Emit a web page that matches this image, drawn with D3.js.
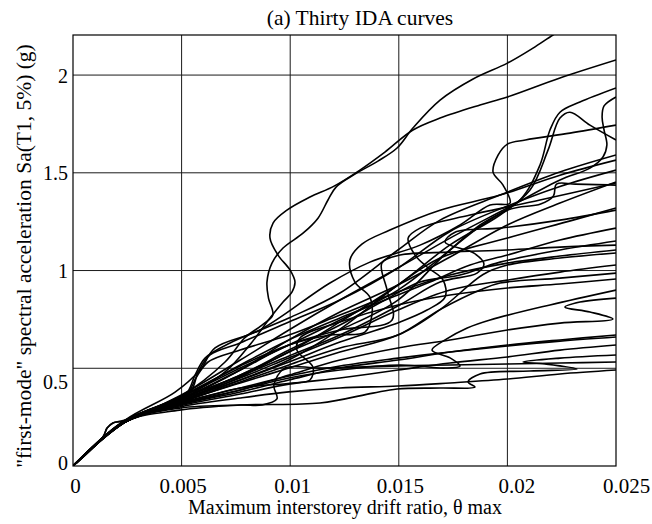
<!DOCTYPE html>
<html><head><meta charset="utf-8">
<script src="https://cdn.jsdelivr.net/npm/d3@7"></script>
<style>
body{margin:0;background:#fff}
svg{display:block}
text{font-family:"Liberation Serif","Times New Roman",serif;fill:#000}
</style>
</head><body><svg id="chart" width="652" height="524"></svg>
<script>
// ---- axis data ----
const xTicks = [0, 0.005, 0.01, 0.015, 0.02, 0.025];
const xTickLabels = ["0", "0.005", "0.01", "0.015", "0.02", "0.025"];
const yTicks = [0, 0.5, 1, 1.5, 2];
const yTickLabels = ["0", "0.5", "1", "1.5", "2"];
const xDomain = [0, 0.025];
const yDomain = [0, 2.205];
const titleText = "(a) Thirty IDA curves";
const xTitle = "Maximum interstorey drift ratio, \u03B8 max";
const yTitle = "\"first-mode\" spectral acceleration Sa(T1, 5%) (g)";

// ---- IDA curves: [theta max, Sa(T1,5%) g] ----
const c01 = [[0,0],[0.0024,0.23],[0.0049,0.353],[0.007,0.532],[0.0079,0.655],[0.0087,0.721],[0.0092,0.772],[0.009,0.859],[0.00893,0.941],[0.00916,1.038],[0.00967,1.115],[0.01059,1.191],[0.01128,1.268],[0.01174,1.361],[0.01211,1.427],[0.01298,1.493],[0.01404,1.56],[0.01492,1.627],[0.01565,1.729],[0.0169,1.872],[0.01842,1.98],[0.02,2.061],[0.02118,2.138],[0.0221,2.205],[0.02265,2.24]];
const c02 = [[0,0],[0.0024,0.225],[0.0049,0.338],[0.007,0.481],[0.00815,0.621],[0.00907,0.757],[0.00967,0.839],[0.01008,0.89],[0.01022,0.941],[0.00999,1.003],[0.00944,1.079],[0.00907,1.166],[0.00921,1.243],[0.00985,1.309],[0.01091,1.376],[0.01202,1.432],[0.01321,1.514],[0.01436,1.606],[0.01565,1.719],[0.0169,1.78],[0.01874,1.847],[0.02,1.888],[0.02242,1.985],[0.025,2.077]];
const c03 = [[0,0],[0.0024,0.23],[0.0049,0.348],[0.0077,0.501],[0.00994,0.619],[0.01229,0.747],[0.01496,0.9],[0.0169,1.064],[0.01874,1.233],[0.02058,1.361],[0.0215,1.54],[0.02196,1.719],[0.02242,1.81],[0.02334,1.862],[0.025,1.934]];
const c04 = [[0,0],[0.0024,0.225],[0.0049,0.328],[0.0077,0.466],[0.00994,0.583],[0.01229,0.737],[0.01496,0.926],[0.01736,1.131],[0.01966,1.284],[0.02104,1.412],[0.02187,1.616],[0.02242,1.78],[0.02288,1.81],[0.0238,1.744],[0.025,1.668]];
const c05 = [[0,0],[0.00138,0.148],[0.00157,0.194],[0.00184,0.22],[0.0024,0.235],[0.0049,0.358],[0.0077,0.542],[0.00994,0.696],[0.01229,0.849],[0.01496,1.013],[0.01736,1.166],[0.02,1.32],[0.02242,1.463],[0.0238,1.524],[0.0244,1.581],[0.02458,1.642],[0.02445,1.719],[0.02436,1.785],[0.02445,1.842],[0.025,1.888]];
const c06 = [[0,0],[0.0024,0.235],[0.0047,0.378],[0.00585,0.491],[0.00654,0.604],[0.00861,0.696],[0.01183,0.936],[0.01367,1.043],[0.01598,1.13],[0.01782,1.233],[0.0192,1.335],[0.02012,1.345],[0.0198,1.437],[0.01934,1.503],[0.01957,1.59],[0.02,1.647],[0.02083,1.668],[0.02288,1.703],[0.025,1.744]];
const c07 = [[0,0],[0.0024,0.23],[0.00516,0.363],[0.00562,0.465],[0.00608,0.552],[0.00723,0.629],[0.00994,0.757],[0.01229,0.885],[0.01496,1.105],[0.0169,1.258],[0.01966,1.386],[0.02242,1.504],[0.025,1.591]];
const c08 = [[0,0],[0.0024,0.225],[0.00539,0.379],[0.00576,0.481],[0.00631,0.568],[0.00769,0.629],[0.00994,0.737],[0.01229,0.849],[0.01496,1.013],[0.01736,1.2],[0.02,1.33],[0.02242,1.43],[0.025,1.514]];
const c09 = [[0,0],[0.0024,0.235],[0.0049,0.338],[0.0077,0.491],[0.00994,0.645],[0.01229,0.788],[0.01496,0.926],[0.01736,1.069],[0.02,1.233],[0.02242,1.345],[0.025,1.453]];
const c10 = [[0,0],[0.0024,0.23],[0.0049,0.327],[0.0077,0.455],[0.00994,0.583],[0.01229,0.696],[0.01496,0.849],[0.01736,1.105],[0.02,1.309],[0.02153,1.34],[0.02212,1.381],[0.02226,1.442],[0.02313,1.442],[0.025,1.437]];
const c11 = [[0,0],[0.0024,0.225],[0.0049,0.322],[0.0077,0.44],[0.00994,0.542],[0.01229,0.7],[0.01496,0.926],[0.0169,1.064],[0.02,1.166],[0.02302,1.258],[0.025,1.32]];
const c12 = [[0,0],[0.0024,0.23],[0.0049,0.343],[0.0077,0.465],[0.00994,0.593],[0.01229,0.721],[0.01436,0.849],[0.01598,0.941],[0.01782,0.977],[0.01966,1.043],[0.02242,1.105],[0.025,1.151]];
const c13 = [[0,0],[0.0024,0.225],[0.0049,0.333],[0.0077,0.44],[0.00994,0.532],[0.01229,0.634],[0.01506,0.737],[0.0163,0.798],[0.01713,0.864],[0.01704,0.951],[0.0163,1.018],[0.01575,1.079],[0.01543,1.166],[0.01598,1.217],[0.01828,1.284],[0.0215,1.361],[0.025,1.448]];
const c14 = [[0,0],[0.00138,0.148],[0.00157,0.194],[0.00184,0.22],[0.0024,0.23],[0.0049,0.353],[0.0077,0.512],[0.00994,0.619],[0.01183,0.67],[0.01344,0.685],[0.01376,0.772],[0.01367,0.864],[0.01298,0.941],[0.01275,1.054],[0.0133,1.135],[0.01459,1.207],[0.0169,1.309],[0.01966,1.386],[0.02242,1.488],[0.025,1.565]];
const c15 = [[0,0],[0.0024,0.225],[0.0049,0.322],[0.0077,0.43],[0.00994,0.517],[0.01229,0.604],[0.01496,0.67],[0.0169,0.8],[0.01888,0.98],[0.02,1.028],[0.02242,1.064],[0.025,1.09]];
const c16 = [[0,0],[0.0024,0.23],[0.0049,0.338],[0.0077,0.45],[0.00994,0.553],[0.01229,0.66],[0.01496,0.798],[0.01736,0.9],[0.02,0.951],[0.02242,0.992],[0.025,1.028]];
const c17 = [[0,0],[0.0024,0.225],[0.0049,0.327],[0.0077,0.425],[0.00994,0.501],[0.01229,0.583],[0.01496,0.67],[0.0169,0.8],[0.01874,0.9],[0.01966,0.936],[0.02242,0.961],[0.025,0.987]];
const c18 = [[0,0],[0.0024,0.23],[0.0049,0.343],[0.0077,0.46],[0.00994,0.563],[0.01229,0.67],[0.01506,0.825],[0.0169,0.941],[0.0186,0.987],[0.01892,1.033],[0.01846,1.089],[0.01713,1.145],[0.01759,1.196],[0.01966,1.217],[0.02242,1.258],[0.025,1.309]];
const c19 = [[0,0],[0.0024,0.23],[0.0053,0.379],[0.00566,0.45],[0.00622,0.532],[0.00769,0.593],[0.00994,0.67],[0.01229,0.772],[0.01496,0.89],[0.01736,0.977],[0.02,1.038],[0.02242,1.074],[0.025,1.105]];
const c20 = [[0,0],[0.0024,0.225],[0.0049,0.317],[0.0077,0.399],[0.01013,0.425],[0.01091,0.44],[0.01105,0.506],[0.01031,0.593],[0.01045,0.655],[0.01229,0.737],[0.01496,0.824],[0.01736,0.875],[0.02,0.911],[0.02242,0.931],[0.025,0.957]];
const c21 = [[0,0],[0.0024,0.225],[0.0049,0.312],[0.0077,0.389],[0.00994,0.465],[0.01229,0.542],[0.01496,0.604],[0.01736,0.645],[0.02,0.696],[0.02242,0.731],[0.02486,0.752],[0.0238,0.788],[0.02265,0.813],[0.02334,0.839],[0.025,0.859]];
const c22 = [[0,0],[0.0024,0.225],[0.0049,0.312],[0.0077,0.379],[0.00994,0.44],[0.01229,0.501],[0.01496,0.542],[0.01736,0.583],[0.02,0.619],[0.02242,0.645],[0.025,0.67]];
const c23 = [[0,0],[0.0024,0.23],[0.0049,0.322],[0.0077,0.399],[0.00994,0.46],[0.01229,0.512],[0.01496,0.552],[0.01736,0.583],[0.02,0.614],[0.02242,0.639],[0.025,0.66]];
const c24 = [[0,0],[0.0024,0.225],[0.0049,0.286],[0.0077,0.312],[0.01137,0.322],[0.01381,0.373],[0.01492,0.394],[0.0169,0.399],[0.01851,0.404],[0.01819,0.43],[0.01874,0.471],[0.02104,0.486],[0.0232,0.496],[0.02173,0.522],[0.02072,0.532],[0.02242,0.552],[0.025,0.568]];
const c25 = [[0,0],[0.0024,0.23],[0.0049,0.302],[0.0077,0.348],[0.00994,0.379],[0.01229,0.399],[0.01496,0.409],[0.01736,0.425],[0.02,0.445],[0.02242,0.471],[0.025,0.491]];
const c26 = [[0,0],[0.0024,0.23],[0.0049,0.338],[0.0077,0.491],[0.00994,0.619],[0.01229,0.696],[0.01469,0.747],[0.01446,0.9],[0.01422,1.038],[0.01506,1.079],[0.01736,1.094],[0.02,1.105],[0.02242,1.12],[0.025,1.13]];
const c27 = [[0,0],[0.0024,0.225],[0.0049,0.317],[0.0077,0.389],[0.00994,0.45],[0.01229,0.491],[0.01506,0.517],[0.01713,0.501],[0.01782,0.512],[0.01736,0.553],[0.01653,0.593],[0.01713,0.645],[0.01815,0.706],[0.0192,0.747],[0.02196,0.824],[0.025,0.9]];
const c28 = [[0,0],[0.0024,0.225],[0.0049,0.307],[0.0077,0.368],[0.00994,0.419],[0.01229,0.45],[0.01496,0.491],[0.01736,0.527],[0.02,0.558],[0.02242,0.593],[0.025,0.619]];
const c29 = [[0,0],[0.0024,0.225],[0.0049,0.296],[0.0077,0.312],[0.0087,0.312],[0.00939,0.343],[0.00925,0.414],[0.00976,0.501],[0.01137,0.501],[0.01496,0.512],[0.01736,0.517],[0.02,0.522],[0.02242,0.527],[0.025,0.532]];
const c30 = [[0,0],[0.0024,0.23],[0.0049,0.348],[0.0077,0.517],[0.00994,0.645],[0.01229,0.757],[0.01496,0.875],[0.01644,0.941],[0.01828,1.028],[0.02,1.079],[0.02242,1.156],[0.025,1.217]];

const curves = [c01,c02,c03,c04,c05,c06,c07,c08,c09,c10,c11,c12,c13,c14,c15,c16,c17,c18,c19,c20,c21,c22,c23,c24,c25,c26,c27,c28,c29,c30];

// ---- drawing ----
const plot = {left: 73, right: 616, top: 35, bottom: 466};
const svg = d3.select("#chart");
const x = d3.scaleLinear().domain(xDomain).range([plot.left, plot.right]);
const y = d3.scaleLinear().domain(yDomain).range([plot.bottom, plot.top]);

svg.append("defs").append("clipPath").attr("id", "clip")
  .append("rect").attr("x", plot.left).attr("y", plot.top)
  .attr("width", plot.right - plot.left).attr("height", plot.bottom - plot.top);

// grid
const grid = svg.append("g").attr("stroke", "#1a1a1a").attr("stroke-width", 1).attr("fill", "none");
grid.selectAll("line.v").data(xTicks.filter(t => t > 0 && t < xDomain[1])).join("line")
  .attr("class", "v").attr("x1", d => x(d)).attr("x2", d => x(d))
  .attr("y1", plot.top).attr("y2", plot.bottom);
grid.selectAll("line.h").data(yTicks.filter(t => t > 0)).join("line")
  .attr("class", "h").attr("y1", d => y(d)).attr("y2", d => y(d))
  .attr("x1", plot.left).attr("x2", plot.right);

// curves
const line = d3.line().x(d => x(d[0])).y(d => y(d[1])).curve(d3.curveCatmullRom.alpha(0.5));
svg.append("g").attr("clip-path", "url(#clip)")
  .selectAll("path").data(curves).join("path")
  .attr("d", line).attr("fill", "none").attr("stroke", "#000")
  .attr("stroke-width", 1.6).attr("stroke-linejoin", "round");

// frame
svg.append("rect").attr("x", plot.left).attr("y", plot.top)
  .attr("width", plot.right - plot.left).attr("height", plot.bottom - plot.top)
  .attr("fill", "none").attr("stroke", "#000").attr("stroke-width", 1.2);

// x axis labels
const xLabelShift = {"0": 2, "0.005": 1, "0.01": 2, "0.015": 1, "0.02": 9, "0.025": 10};
const xAxis = d3.axisBottom(x).tickValues(xTicks).tickFormat((d, i) => xTickLabels[i]).tickSize(0).tickPadding(12);
const gx = svg.append("g").attr("transform", `translate(0,${plot.bottom})`).call(xAxis);
gx.select(".domain").remove();
gx.selectAll("text").style("font-family", "'Liberation Serif', serif").style("font-size", "21px").attr("fill", "#000")
  .attr("dx", (d, i) => (xLabelShift[xTickLabels[i]] || 0) + "px");

// y axis labels
const yLabelShift = {"0": -4, "0.5": 13};
const yAxis = d3.axisLeft(y).tickValues(yTicks).tickFormat((d, i) => yTickLabels[i]).tickSize(0).tickPadding(5);
const gy = svg.append("g").attr("transform", `translate(${plot.left},0)`).call(yAxis);
gy.select(".domain").remove();
gy.selectAll("text").style("font-family", "'Liberation Serif', serif").style("font-size", "20px").attr("fill", "#000")
  .attr("dy", (d, i) => (yLabelShift[yTickLabels[i]] || 0) + 7 + "px");

// titles
svg.append("text").attr("x", 360).attr("y", 25).attr("text-anchor", "middle")
  .style("font-size", "21.5px").text(titleText);
svg.append("text").attr("x", 345).attr("y", 514).attr("text-anchor", "middle")
  .style("font-size", "20px").text(xTitle);
svg.append("text").attr("transform", `translate(31,256) rotate(-90)`)
  .attr("text-anchor", "middle").style("font-size", "21.5px").text(yTitle);
</script>
</body></html>
